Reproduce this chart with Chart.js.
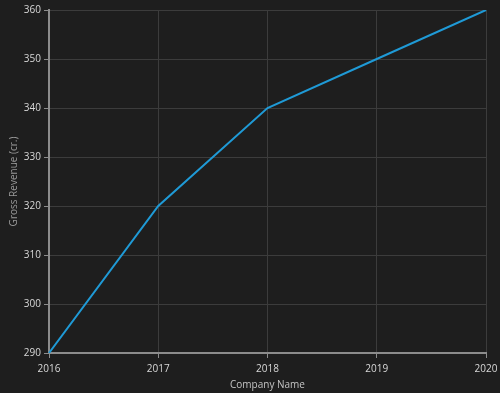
<!DOCTYPE html>
<html>
<head>
<meta charset="utf-8">
<script src="https://cdn.jsdelivr.net/npm/chart.js@4/dist/chart.umd.min.js"></script>
<style>
  html, body { margin: 0; padding: 0; background: #1e1e1e; }
  #wrap { width: 500px; height: 393px; }
</style>
</head>
<body>
<div id="wrap"><canvas id="chart" width="500" height="393"></canvas></div>
<script>
const years = ["2016", "2017", "2018", "2019", "2020"];
const revenue = [290, 320, 340, 350, 360];

const axisColor = "#8c8c8c";
const gridColor = "#3c3c3c";
const tickFont = { family: "Open Sans", size: 10 };

new Chart(document.getElementById("chart"), {
  type: "line",
  data: {
    labels: years,
    datasets: [
      {
        label: "Gross Revenue",
        data: revenue,
        borderColor: "#1f9ad6",
        borderWidth: 2,
        pointRadius: 0,
        tension: 0,
        fill: false,
      },
    ],
  },
  options: {
    responsive: false,
    animation: false,
    layout: { padding: { top: 10, right: 14, left: 8, bottom: 0 } },
    plugins: { legend: { display: false }, tooltip: { enabled: false } },
    scales: {
      x: {
        offset: false,
        grid: { color: gridColor, tickColor: axisColor, tickLength: 5 },
        border: { color: axisColor, width: 2 },
        ticks: { color: "#d8d8d8", font: tickFont, padding: 5, maxRotation: 0 },
        title: {
          display: true,
          text: "Company Name",
          color: "#c4c4c4",
          font: tickFont,
          padding: { top: 0, bottom: 2 },
        },
        afterFit: (s) => {
          s.height = 40;
          s.paddingLeft = 0;
          s.paddingRight = 0;
        },
      },
      y: {
        min: 290,
        max: 360,
        grid: { color: gridColor, tickColor: axisColor, tickLength: 5 },
        border: { color: axisColor, width: 2 },
        ticks: { stepSize: 10, color: "#d8d8d8", font: tickFont, padding: 3 },
        title: {
          display: true,
          text: "Gross Revenue (cr.)",
          color: "#9a9a9a",
          font: tickFont,
          padding: { top: 0, bottom: 4 },
        },
        afterFit: (s) => {
          s.width = 41;
          s.paddingTop = 0;
          s.paddingBottom = 0;
        },
      },
    },
  },
});
</script>
</body>
</html>
